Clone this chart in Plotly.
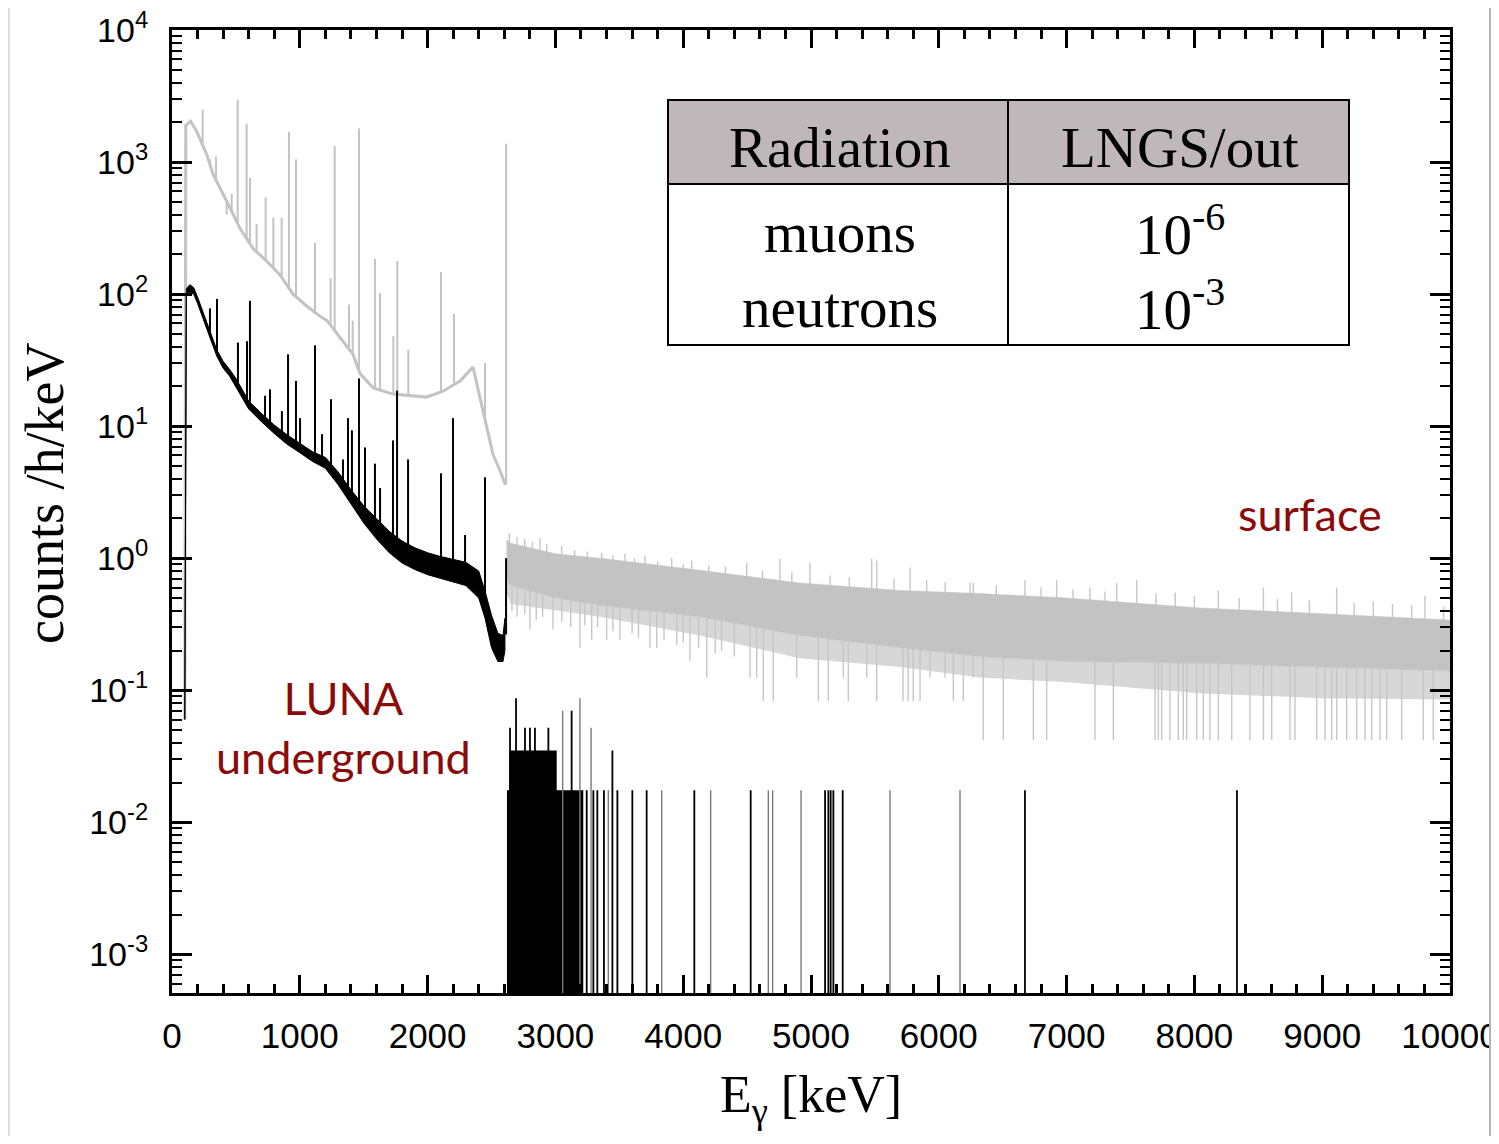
import numpy as np
import plotly.graph_objects as go

# ---------------- data ----------------
# Surface spectrum continuum below the 2614 keV line (keV, counts/h/keV)
surf_e = [100, 108, 146, 193, 272, 321, 428, 532, 634, 741, 845, 947, 1056, 1158, 1213,
          1315, 1416, 1471, 1574, 1729, 1850, 1990, 2120, 2254, 2355, 2410, 2512, 2567, 2608]
surf_v = [0.06, 1900, 2040, 1710, 1140, 810, 505, 315, 222, 178, 140, 100, 81, 68, 63,
          47, 35, 25, 19.5, 17.5, 17.0, 16.6, 18.4, 22, 28, 16.6, 6.1, 4.6, 3.6]

# Surface gamma lines (energy keV, peak height)
surf_peak_e = [240, 297, 344, 428, 467, 514, 584, 610, 662, 733, 793, 858, 915, 970,
               1119, 1241, 1273, 1385, 1414, 1463, 1588, 1628, 1732, 1763, 1849, 2105,
               2207, 2449, 2614]
surf_peak_v = [2500, 1050, 1100, 400, 575, 2950, 1950, 760, 340, 540, 380, 380, 1700, 1050,
               245, 132, 1320, 83, 63, 1800, 185, 102, 48, 178, 38, 147,
               71, 30, 1380]

# Surface spectrum above 2614 keV: dense core of the band (upper / lower edge)
surf_band_e = [2618, 2650, 3000, 3350, 4130, 4910, 5700, 6320, 7000, 8040, 9000, 10000]
surf_band_hi = [1.38, 1.30, 1.08, 1.00, 0.81, 0.65, 0.57, 0.54, 0.50, 0.42, 0.38, 0.34]
surf_band_lo = [0.70, 0.62, 0.50, 0.44, 0.36, 0.26, 0.21, 0.18, 0.165, 0.16, 0.15, 0.14]
# lower edge of the half-dense zone below the core
surf_band_lo2 = [0.55, 0.45, 0.40, 0.36, 0.26, 0.175, 0.15, 0.125, 0.115, 0.095, 0.087, 0.085]

# Surface: downward fluctuations (energy, value)
surf_dip_e = [2660, 2700, 2760, 2801, 2850, 2900, 2981, 3050, 3120, 3192, 3230, 3284, 3330,
              3401, 3450, 3505, 3600, 3650, 3740, 3793, 3850, 3950, 4000, 4053, 4120, 4184,
              4250, 4300, 4400,
              4523, 4575, 4627, 4705, 4888, 5057, 5136, 5253, 5292, 5436,
              5514, 5720, 5760, 5800, 5853, 5931, 6049, 6114, 6192, 6270,
              6348, 6505, 6740, 6844, 7222, 7366, 7692, 7718, 7744, 7809,
              7874, 7913, 7940, 8018, 8070, 8122, 8187, 8292, 8435, 8540,
              8605, 8748, 8787, 8957, 9022, 9074, 9113, 9191, 9270, 9335,
              9387, 9452, 9505, 9622, 9791, 9869]
surf_dip_v = [0.40, 0.36, 0.38, 0.29, 0.34, 0.36, 0.29, 0.33, 0.30, 0.21, 0.31, 0.24, 0.30,
              0.24, 0.28, 0.24, 0.27, 0.25, 0.21, 0.21, 0.24, 0.22, 0.23, 0.167, 0.21, 0.125,
              0.19, 0.20, 0.18,
              0.125, 0.125, 0.083, 0.083, 0.125, 0.083, 0.083, 0.125, 0.083, 0.125,
              0.083, 0.083, 0.083, 0.083, 0.083, 0.125, 0.125, 0.083, 0.083, 0.125,
              0.042, 0.042, 0.042, 0.042, 0.042, 0.042, 0.042, 0.042, 0.042, 0.042,
              0.042, 0.042, 0.042, 0.042, 0.042, 0.042, 0.042, 0.042, 0.042, 0.042,
              0.042, 0.042, 0.042, 0.042, 0.042, 0.042, 0.042, 0.042, 0.042, 0.042,
              0.042, 0.042, 0.042, 0.042, 0.042, 0.042]

# Surface: upward fluctuations (energy, value)
surf_up_e = [2640, 2700, 2760, 2820, 2879, 2932, 3049, 3150, 3250, 3362, 3450, 3545, 3620, 3701,
             3800, 3910, 4000, 4066, 4200, 4330, 4497, 4620, 4757, 4850, 4992, 5150, 5300, 5475,
             5514, 5650, 5775, 5905, 6050, 6244, 6270, 6450, 6674, 6800, 6922, 7050, 7183, 7300,
             7392, 7549, 7700, 7850, 8000, 8187, 8350, 8540, 8650, 8761, 8900, 9113, 9250, 9400,
             9550, 9700, 9804, 9950]
surf_up_v = [1.55, 1.45, 1.40, 1.32, 1.42, 1.28, 1.24, 1.15, 1.12, 1.10, 1.05, 1.08, 1.00, 1.04,
             0.95, 1.00, 0.90, 0.96, 0.88, 0.86, 0.92, 0.80, 0.99, 0.78, 0.92, 0.74, 0.72, 0.99,
             0.96, 0.70, 0.85, 0.68, 0.66, 0.65, 0.65, 0.62, 0.68, 0.60, 0.68, 0.58, 0.60, 0.56,
             0.65, 0.68, 0.54, 0.55, 0.52, 0.57, 0.50, 0.60, 0.49, 0.55, 0.48, 0.60, 0.46, 0.47,
             0.45, 0.44, 0.52, 0.43]

# LUNA underground continuum band (energy, upper, lower)
ug_e = [100, 112, 140, 170, 200, 250, 300, 350, 400, 450, 500, 550, 600, 700, 800, 900,
        1000, 1100, 1200, 1300, 1400, 1500, 1600, 1700, 1800, 1900, 2000, 2100, 2200,
        2300, 2400, 2450, 2500, 2550, 2590, 2605]
ug_hi = [0.06, 110, 118, 112, 95, 70, 51, 38, 31, 27, 23, 19, 15.5, 12.5, 10.2, 8.6,
         7.4, 6.4, 5.8, 4.5, 3.3, 2.5, 2.0, 1.6, 1.35, 1.2, 1.1, 1.03, 0.98,
         0.93, 0.80, 0.56, 0.37, 0.27, 0.26, 0.35]
ug_lo = [0.06, 97, 104, 100, 85, 63, 46, 34, 27.5, 24, 20, 16.5, 13.5, 10.8, 8.8, 7.3,
         6.3, 5.4, 4.8, 3.6, 2.6, 1.85, 1.4, 1.1, 0.92, 0.82, 0.75, 0.70, 0.66,
         0.62, 0.50, 0.35, 0.21, 0.165, 0.165, 0.20]

# LUNA underground gamma lines (energy, height)
ug_peak_e = [297, 352, 516, 587, 610, 728, 767, 860, 908, 970, 1002, 1119, 1174, 1244,
             1338, 1377, 1408, 1463, 1510, 1588, 1628, 1729, 1761, 1847, 2105, 2199,
             2293, 2449, 2614]
ug_peak_v = [78, 92, 43, 44, 89, 17, 19, 13, 35, 22, 11.5, 41, 8.7, 16,
             5.6, 11.5, 9.3, 23, 6.9, 5.2, 3.4, 7.8, 18.6, 5.6, 4.4, 11.5,
             1.5, 4.1, 1.0]

# LUNA underground above 2614 keV: solid stretches (start, end, level)
ug_blk_e0 = [2621, 2640]
ug_blk_e1 = [3218, 3010]
ug_blk_v = [0.0175, 0.035]

# LUNA underground above 2614 keV: single bins (dark and faint looking)
ug_dark_e = [2645, 2692, 2762, 2801, 2840, 2945, 3127, 3245, 3297, 3328, 3380, 3446, 3485,
             3602, 3714, 4087, 4528, 5110, 5136, 5154, 5175, 5248, 6674, 8333]
ug_dark_v = [0.052, 0.087, 0.052, 0.052, 0.052, 0.052, 0.07, 0.0175, 0.0175, 0.0175, 0.0175,
             0.035, 0.0175, 0.0175, 0.0175, 0.0175, 0.0175, 0.0175, 0.0175, 0.0175, 0.0175,
             0.0175, 0.0175, 0.0175]
ug_faint_e = [3057, 3192, 3279, 3414, 3832, 4215, 4666, 4700, 4922, 5618, 6166]
ug_faint_v = [0.07, 0.087, 0.052, 0.0175, 0.0175, 0.0175, 0.0175, 0.0175, 0.0175, 0.0175, 0.0175]

x_ticks = list(range(0, 10001, 1000))
y_exps = list(range(-3, 5))

# ---------------- helpers ----------------
# The page body keeps its default 8 px margin on every side; size the figure so the
# whole page is exactly 1499 x 1144 and place the plot area in page pixels.
PAGE_W, PAGE_H = 1499, 1144
OFF = 8
W, H = PAGE_W - 2 * OFF, PAGE_H - 2 * OFF
L, R, T, B = 172, 1450, 30, 993          # plot area in page pixels
YR = [-3.293, 4.0005]
FLOOR = 1e-5


def px(x):
    return (x - L) / (R - L)


def py(y):
    return (B - y) / (B - T)


def logi(e, xs, ys):
    return 10 ** np.interp(e, xs, np.log10(ys))


def segs(xs, y0s, y1s):
    X, Y = [], []
    for a, b, c in zip(xs, y0s, y1s):
        X += [a, a, None]
        Y += [float(b), float(c), None]
    return X, Y


GRAY = "#c3c3c3"
fig = go.Figure()

# surface band above 2614 keV: half-dense lower zone, then dense core
fig.add_trace(go.Scatter(x=surf_band_e + surf_band_e[::-1], y=surf_band_lo + surf_band_lo2[::-1],
                         mode="lines", fill="toself", fillcolor="#d7d7d7", line=dict(width=0),
                         hoverinfo="skip"))
X, Y = segs(surf_dip_e, [logi(e, surf_band_e, surf_band_lo) for e in surf_dip_e], surf_dip_v)
fig.add_trace(go.Scatter(x=X, y=Y, mode="lines", line=dict(color="#c6c6c6", width=1.4), hoverinfo="skip"))
X, Y = segs(surf_up_e, [logi(e, surf_band_e, surf_band_hi) * 0.9 for e in surf_up_e], surf_up_v)
fig.add_trace(go.Scatter(x=X, y=Y, mode="lines", line=dict(color="#c6c6c6", width=1.4), hoverinfo="skip"))
fig.add_trace(go.Scatter(x=surf_band_e + surf_band_e[::-1], y=surf_band_hi + surf_band_lo[::-1],
                         mode="lines", fill="toself", fillcolor=GRAY, line=dict(width=0.5, color=GRAY),
                         hoverinfo="skip"))

# surface continuum and lines
fig.add_trace(go.Scatter(x=surf_e, y=surf_v, mode="lines", line=dict(color=GRAY, width=3), hoverinfo="skip"))
X, Y = segs(surf_peak_e, [logi(e, surf_e[1:], surf_v[1:]) for e in surf_peak_e], surf_peak_v)
fig.add_trace(go.Scatter(x=X, y=Y, mode="lines", line=dict(color=GRAY, width=2), hoverinfo="skip"))

# underground continuum band
fig.add_trace(go.Scatter(x=ug_e + ug_e[::-1], y=ug_hi + ug_lo[::-1], mode="lines", fill="toself",
                         fillcolor="black", line=dict(color="black", width=1), hoverinfo="skip"))
ug_mid = list(np.sqrt(np.array(ug_hi) * np.array(ug_lo)))
X, Y = segs(ug_peak_e, [logi(e, ug_e[1:], ug_mid[1:]) for e in ug_peak_e], ug_peak_v)
fig.add_trace(go.Scatter(x=X, y=Y, mode="lines", line=dict(color="black", width=2), hoverinfo="skip"))

# underground above 2614 keV
bx, by = [], []
for a, b, v in zip(ug_blk_e0, ug_blk_e1, ug_blk_v):
    bx += [a, a, b, b, a, None]
    by += [FLOOR, v, v, FLOOR, FLOOR, None]
fig.add_trace(go.Scatter(x=bx, y=by, mode="lines", fill="toself", fillcolor="black",
                         line=dict(width=0), hoverinfo="skip"))
X, Y = segs(ug_faint_e, [FLOOR] * len(ug_faint_e), ug_faint_v)
fig.add_trace(go.Scatter(x=X, y=Y, mode="lines", line=dict(color="#7a7a7a", width=1.4), hoverinfo="skip"))
X, Y = segs(ug_dark_e, [FLOOR] * len(ug_dark_e), ug_dark_v)
fig.add_trace(go.Scatter(x=X, y=Y, mode="lines", line=dict(color="black", width=1.8), hoverinfo="skip"))

# ---------------- axes ----------------
minor_y = [m * 10 ** k for k in range(-4, 4) for m in range(2, 10)]
fig.update_xaxes(range=[0, 10000], tickmode="array", tickvals=x_ticks,
                 ticktext=[str(v) for v in x_ticks], automargin=False,
                 ticks="inside", ticklen=18, tickwidth=2.5, tickcolor="black",
                 showline=True, linewidth=3, linecolor="black", mirror="ticks",
                 showgrid=False, zeroline=False, ticklabelstandoff=10,
                 ticklabeloverflow="allow",
                 tickfont=dict(family="Liberation Sans", size=35, color="black"),
                 minor=dict(tickmode="linear", tick0=0, dtick=200, ticks="inside", ticklen=9,
                            tickwidth=2.5, tickcolor="black", showgrid=False))
fig.update_yaxes(type="log", range=YR, tickmode="array", tickvals=[10.0 ** k for k in y_exps],
                 ticktext=["10<sup>%d</sup>" % k for k in y_exps], automargin=False,
                 ticks="inside", ticklen=20, tickwidth=2.5, tickcolor="black",
                 showline=True, linewidth=3, linecolor="black", mirror="ticks",
                 showgrid=False, zeroline=False, ticklabelstandoff=14,
                 ticklabeloverflow="allow",
                 tickfont=dict(family="Liberation Sans", size=34, color="black"),
                 minor=dict(tickmode="array", tickvals=minor_y, ticks="inside", ticklen=10,
                            tickwidth=2.2, tickcolor="black", showgrid=False))

# ---------------- table, texts, frame ----------------
shapes = []


def rect(x0, y0, x1, y1, fill, lw=0, lc="black", layer="above"):
    shapes.append(dict(type="rect", xref="paper", yref="paper", x0=px(x0), x1=px(x1),
                       y0=py(y1), y1=py(y0), fillcolor=fill, layer=layer,
                       line=dict(width=lw, color=lc)))


def line(x0, y0, x1, y1, lw=2):
    shapes.append(dict(type="line", xref="paper", yref="paper", x0=px(x0), x1=px(x1),
                       y0=py(y0), y1=py(y1), layer="above", line=dict(width=lw, color="black")))


rect(668, 100, 1349, 345, "white")
rect(668, 100, 1349, 184, "#bfb7ba")
rect(668, 100, 1349, 345, "rgba(0,0,0,0)", lw=2)
line(668, 184, 1349, 184)
line(1008, 100, 1008, 345)

# page frame (visible parts inside the figure)
rect(0, 0, 10, PAGE_H, "#dcdcdc")
rect(1489, 0, PAGE_W, PAGE_H, "#b4b4b4")

ann = []


def text(s, x, y, size, family, color="black", angle=0):
    ann.append(dict(text=s, x=px(x), y=py(y), xref="paper", yref="paper", showarrow=False,
                    xanchor="center", yanchor="middle", textangle=angle,
                    font=dict(family=family, size=size, color=color)))


serif = "Liberation Serif"
text("Radiation", 840, 147, 57, serif)
text("LNGS/out", 1180, 147, 57, serif)
text("muons", 840, 232, 57, serif)
text("neutrons", 840, 307, 57, serif)
text("10<sup>-6</sup>", 1180, 230, 57, serif)
text("10<sup>-3</sup>", 1180, 305, 57, serif)

text("LUNA<br>underground", 343, 727, 45, "Lato", color="#8b0a0a")
text("surface", 1310, 514, 45, "Lato", color="#8b0a0a")

text("E<sub>γ</sub> [keV]", 811, 1098, 52, serif)
text("counts /h/keV", 45, 494, 54, serif, angle=-90)

fig.update_layout(width=W, height=H,
                  margin=dict(l=L - OFF, r=(PAGE_W - OFF) - R, t=T - OFF, b=(PAGE_H - OFF) - B, pad=0),
                  paper_bgcolor="white", plot_bgcolor="white", showlegend=False,
                  shapes=shapes, annotations=ann)

fig.write_html("out.html")
